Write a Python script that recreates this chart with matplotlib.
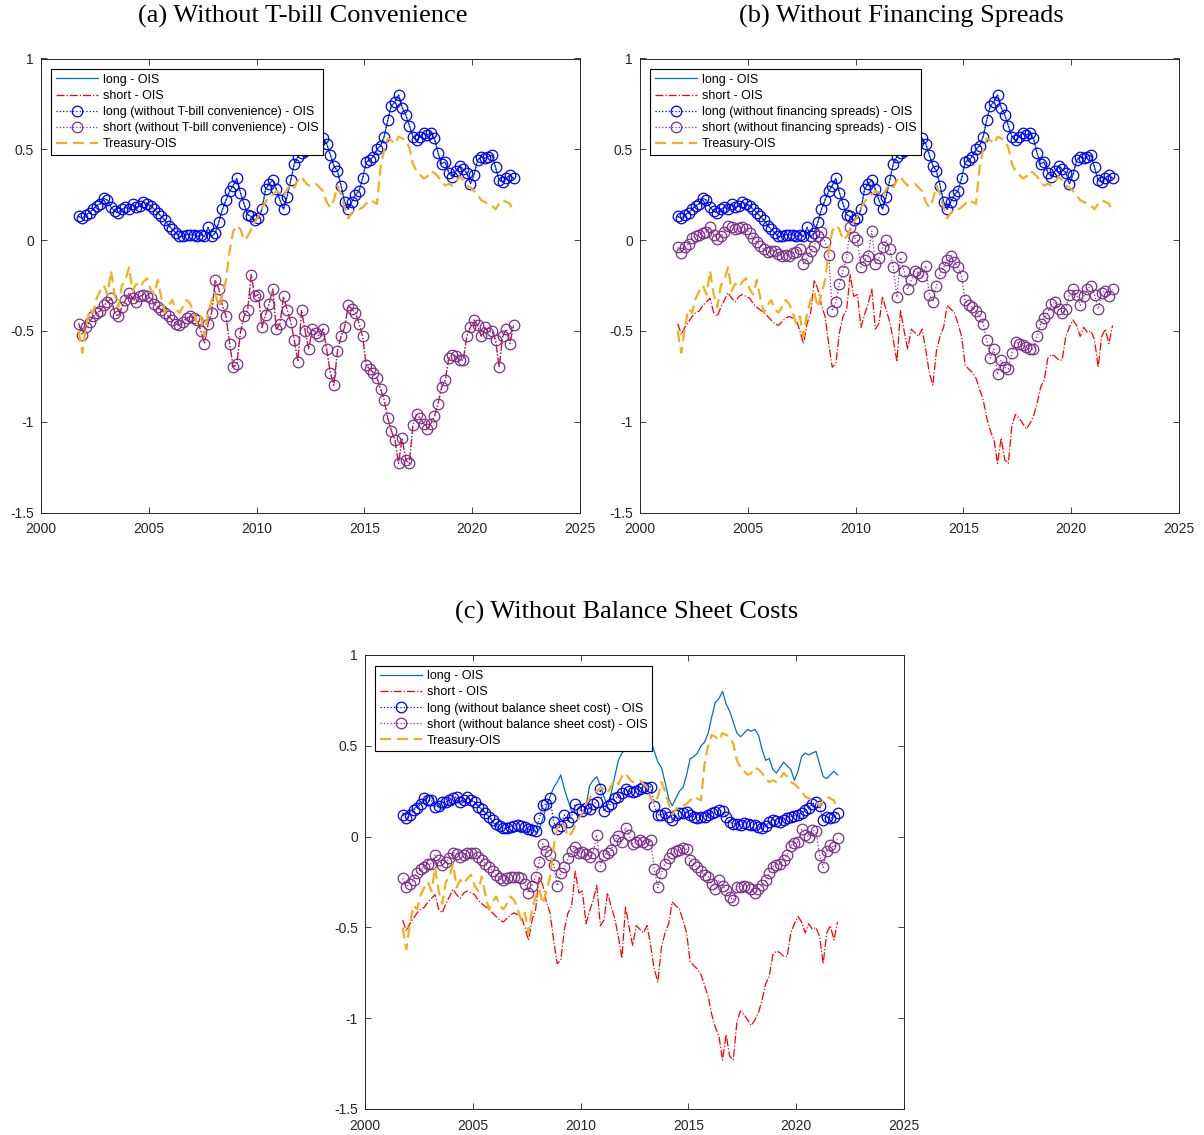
import numpy as np
import matplotlib
matplotlib.use('Agg')
import matplotlib.pyplot as plt

plt.rcParams['font.family'] = 'Liberation Sans'
plt.rcParams['axes.unicode_minus'] = False

# two-month observations, late 2001 to end of 2021
dates = 2001.75 + np.arange(122) / 6.0

long_ois = [
    0.13, 0.12, 0.14, 0.15, 0.17, 0.19, 0.20, 0.23, 0.22, 0.18, 0.16, 0.15,
    0.17, 0.18, 0.17, 0.20, 0.18, 0.19, 0.21, 0.20, 0.19, 0.17, 0.15, 0.13,
    0.11, 0.08, 0.06, 0.04, 0.02, 0.02, 0.03, 0.03, 0.03, 0.02, 0.03, 0.02,
    0.07, 0.02, 0.04, 0.10, 0.17, 0.22, 0.27, 0.30, 0.34, 0.26, 0.20, 0.14,
    0.13, 0.11, 0.12, 0.17, 0.28, 0.31, 0.33, 0.28, 0.22, 0.17, 0.24, 0.33,
    0.42, 0.46, 0.48, 0.49, 0.52, 0.50, 0.55, 0.54, 0.56, 0.53, 0.47, 0.41,
    0.38, 0.30, 0.21, 0.17, 0.21, 0.25, 0.27, 0.34, 0.43, 0.44, 0.46, 0.50,
    0.52, 0.57, 0.66, 0.74, 0.76, 0.80, 0.73, 0.69, 0.63, 0.57, 0.55, 0.57,
    0.59, 0.58, 0.59, 0.56, 0.48, 0.42, 0.43, 0.37, 0.35, 0.38, 0.41, 0.39,
    0.37, 0.31, 0.36, 0.44, 0.46, 0.45, 0.46, 0.47, 0.40, 0.33, 0.32, 0.34,
    0.36, 0.34,
]

short_ois = [
    -0.46, -0.52, -0.48, -0.45, -0.42, -0.40, -0.39, -0.36, -0.34, -0.32, -0.40, -0.42,
    -0.37, -0.33, -0.29, -0.32, -0.34, -0.31, -0.30, -0.31, -0.32, -0.35, -0.37, -0.385,
    -0.40, -0.42, -0.44, -0.46, -0.47, -0.45, -0.43, -0.42, -0.43, -0.44, -0.50, -0.57,
    -0.46, -0.40, -0.22, -0.27, -0.36, -0.42, -0.57, -0.70, -0.68, -0.51, -0.42, -0.385,
    -0.19, -0.31, -0.30, -0.48, -0.41, -0.35, -0.27, -0.49, -0.46, -0.31, -0.385, -0.45,
    -0.55, -0.67, -0.385, -0.50, -0.60, -0.49, -0.51, -0.53, -0.49, -0.60, -0.73, -0.80,
    -0.61, -0.53, -0.48, -0.36, -0.38, -0.40, -0.46, -0.53, -0.69, -0.71, -0.73, -0.76,
    -0.82, -0.88, -0.98, -1.05, -1.10, -1.23, -1.09, -1.21, -1.23, -1.02, -0.96, -0.98,
    -1.01, -1.04, -1.01, -0.97, -0.90, -0.81, -0.77, -0.65, -0.63, -0.64, -0.66, -0.66,
    -0.53, -0.48, -0.44, -0.47, -0.53, -0.48, -0.51, -0.50, -0.55, -0.70, -0.53, -0.49,
    -0.57, -0.47,
]

treasury_ois = [
    -0.50, -0.62, -0.48, -0.38, -0.40, -0.32, -0.28, -0.25, -0.30, -0.17, -0.30, -0.37,
    -0.25, -0.22, -0.15, -0.28, -0.24, -0.26, -0.23, -0.21, -0.27, -0.30, -0.22, -0.32,
    -0.40, -0.36, -0.33, -0.38, -0.40, -0.37, -0.33, -0.35, -0.40, -0.46, -0.42, -0.53,
    -0.40, -0.33, -0.29, -0.37, -0.30, -0.22, -0.06, 0.05, 0.08, 0.06, 0.00, 0.02,
    0.06, 0.10, 0.13, 0.18, 0.21, 0.24, 0.25, 0.27, 0.26, 0.24, 0.28, 0.31,
    0.29, 0.33, 0.35, 0.32, 0.30, 0.31, 0.31, 0.29, 0.27, 0.21, 0.18, 0.22,
    0.30, 0.25, 0.18, 0.12, 0.15, 0.17, 0.17, 0.18, 0.20, 0.22, 0.21, 0.20,
    0.40, 0.50, 0.56, 0.55, 0.53, 0.57, 0.56, 0.55, 0.51, 0.42, 0.38, 0.36,
    0.34, 0.35, 0.38, 0.37, 0.35, 0.32, 0.30, 0.31, 0.30, 0.32, 0.35, 0.33,
    0.30, 0.29, 0.27, 0.25, 0.22, 0.21, 0.20, 0.19, 0.17, 0.20, 0.22, 0.21,
    0.20, 0.15,
]

# panel (b): short leg without financing spreads
short_no_fin = [
    -0.04, -0.07, -0.04, -0.02, 0.01, 0.02, 0.03, 0.04, 0.045, 0.07, 0.03, 0.005,
    0.02, 0.045, 0.08, 0.07, 0.06, 0.065, 0.07, 0.06, 0.04, 0.01, -0.01, -0.035,
    -0.05, -0.065, -0.06, -0.06, -0.075, -0.085, -0.08, -0.085, -0.07, -0.065, -0.05, -0.13,
    -0.10, -0.06, -0.03, 0.02, 0.045, -0.01, -0.08, -0.39, -0.34, -0.24, -0.17, -0.095,
    0.07, 0.015, 0.0, -0.15, -0.11, -0.09, 0.05, -0.13, -0.10, -0.04, 0.0, -0.05,
    -0.15, -0.315, -0.095, -0.17, -0.27, -0.22, -0.17, -0.18, -0.20, -0.14, -0.30, -0.34,
    -0.25, -0.18, -0.15, -0.11, -0.085, -0.12, -0.15, -0.20, -0.33, -0.36, -0.37, -0.39,
    -0.42, -0.46, -0.55, -0.65, -0.60, -0.74, -0.66, -0.70, -0.71, -0.62, -0.56, -0.57,
    -0.58, -0.59, -0.60, -0.60, -0.53, -0.46, -0.43, -0.40, -0.35, -0.34, -0.38, -0.40,
    -0.38, -0.30, -0.27, -0.30, -0.36, -0.31, -0.27, -0.25, -0.30, -0.38, -0.29, -0.28,
    -0.31, -0.27,
]

# panel (c): both legs without balance sheet cost
long_no_bs = [
    0.12, 0.10, 0.12, 0.145, 0.16, 0.18, 0.21, 0.20, 0.20, 0.165, 0.17, 0.19,
    0.19, 0.20, 0.21, 0.22, 0.19, 0.20, 0.22, 0.20, 0.19, 0.165, 0.15, 0.13,
    0.11, 0.09, 0.07, 0.06, 0.045, 0.05, 0.055, 0.06, 0.065, 0.06, 0.055, 0.04,
    0.035, 0.03, 0.10, 0.175, 0.18, 0.21, 0.08, 0.04, 0.06, 0.12, 0.08, 0.11,
    0.18, 0.15, 0.14, 0.16, 0.15, 0.18, 0.19, 0.26, 0.14, 0.17, 0.18, 0.21,
    0.22, 0.24, 0.26, 0.25, 0.245, 0.25, 0.26, 0.275, 0.27, 0.275, 0.17, 0.12,
    0.12, 0.13, 0.11, 0.09, 0.12, 0.13, 0.13, 0.135, 0.12, 0.11, 0.10, 0.11,
    0.11, 0.12, 0.13, 0.135, 0.145, 0.14, 0.11, 0.08, 0.07, 0.07, 0.065, 0.075,
    0.07, 0.065, 0.065, 0.055, 0.045, 0.06, 0.08, 0.09, 0.085, 0.08, 0.09, 0.105,
    0.11, 0.115, 0.12, 0.13, 0.145, 0.16, 0.18, 0.19, 0.17, 0.09, 0.11, 0.10,
    0.11, 0.13,
]

short_no_bs = [
    -0.23, -0.275, -0.26, -0.24, -0.20, -0.18, -0.165, -0.15, -0.15, -0.10, -0.13, -0.155,
    -0.14, -0.12, -0.09, -0.095, -0.11, -0.10, -0.09, -0.09, -0.09, -0.11, -0.13, -0.15,
    -0.17, -0.19, -0.21, -0.23, -0.24, -0.23, -0.225, -0.22, -0.225, -0.23, -0.26, -0.31,
    -0.27, -0.22, -0.14, -0.04, -0.08, -0.10, -0.155, -0.27, -0.20, -0.17, -0.12, -0.08,
    -0.055, -0.09, -0.085, -0.095, -0.11, -0.09, 0.01, -0.16, -0.10, -0.09, -0.075, -0.02,
    0.005, -0.03, 0.05, 0.01, -0.04, -0.03, -0.02, -0.03, -0.04, -0.02, -0.18, -0.28,
    -0.20, -0.15, -0.12, -0.09, -0.08, -0.075, -0.065, -0.07, -0.13, -0.15, -0.17, -0.19,
    -0.21, -0.22, -0.26, -0.29, -0.24, -0.27, -0.295, -0.33, -0.35, -0.275, -0.275, -0.27,
    -0.28, -0.29, -0.31, -0.29, -0.265, -0.24, -0.20, -0.165, -0.155, -0.15, -0.13, -0.10,
    -0.05, -0.035, -0.03, 0.04, 0.01, 0.0, 0.035, 0.03, -0.10, -0.17, -0.08, -0.045,
    -0.06, -0.01,
]

titles = ['(a) Without T-bill Convenience', '(b) Without Financing Spreads',
          '(c) Without Balance Sheet Costs']
removed = ['without T-bill convenience', 'without financing spreads',
           'without balance sheet cost']

C_LONG = '#0072BD'
C_PURPLE = '#7E2F8E'
C_ORANGE = '#EDB120'
C_AX = '#262626'


def draw_panel(ax, tag, long_alt, short_alt):
    ax.plot(dates, long_ois, '-', color=C_LONG, lw=0.9, label='long - OIS')
    ax.plot(dates, short_ois, '-.', color='r', lw=0.9, label='short - OIS')
    ax.plot(dates, long_alt, ':o', color='b', mfc='none', ms=7.6, mew=0.9,
            lw=0.9, label='long (%s) - OIS' % tag)
    ax.plot(dates, short_alt, ':o', color=C_PURPLE, mfc='none', ms=7.6,
            mew=0.9, lw=0.9, label='short (%s) - OIS' % tag)
    ax.plot(dates, treasury_ois, '--', color=C_ORANGE, lw=1.6,
            dashes=(5, 2.6), label='Treasury-OIS')

    ax.set_xlim(2000, 2025)
    ax.set_ylim(-1.5, 1)
    ax.set_xticks([2000, 2005, 2010, 2015, 2020, 2025])
    ax.set_yticks([-1.5, -1, -0.5, 0, 0.5, 1])
    ax.set_yticklabels(['-1.5', '-1', '-0.5', '0', '0.5', '1'])
    ax.tick_params(direction='in', length=4, width=0.6, top=True, right=True,
                   labelsize=10, colors=C_AX, pad=5)
    ax.tick_params(axis='x', pad=7)
    for sp in ax.spines.values():
        sp.set_color(C_AX)
        sp.set_linewidth(0.7)

    leg = ax.legend(loc='upper left', bbox_to_anchor=(0.019, 0.976),
                    borderaxespad=0, fontsize=9, fancybox=False,
                    edgecolor='black', framealpha=1, handlelength=3.4,
                    handletextpad=0.4, labelspacing=0.33, borderpad=0.35,
                    numpoints=1)
    leg.get_frame().set_linewidth(0.8)


fig = plt.figure(figsize=(12.04, 11.35), dpi=100)
W, H = 1204.0, 1135.0
axw, axh = 539 / W, 454 / H

ax_a = fig.add_axes([41 / W, 1 - 512.5 / H, axw, axh])
ax_b = fig.add_axes([640 / W, 1 - 512.5 / H, axw, axh])
ax_c = fig.add_axes([365 / W, 1 - 1109 / H, axw, axh])

draw_panel(ax_a, removed[0], long_ois, short_ois)
draw_panel(ax_b, removed[1], long_ois, short_no_fin)
draw_panel(ax_c, removed[2], long_no_bs, short_no_bs)

title_font = dict(family='Liberation Serif', fontsize=19, ha='center', va='center')
fig.text(303 / W, 1 - 16 / H, titles[0], **title_font)
fig.text(901 / W, 1 - 16 / H, titles[1], **title_font)
fig.text(627 / W, 1 - 612 / H, titles[2], **title_font)

fig.savefig('out.png', dpi=100)
